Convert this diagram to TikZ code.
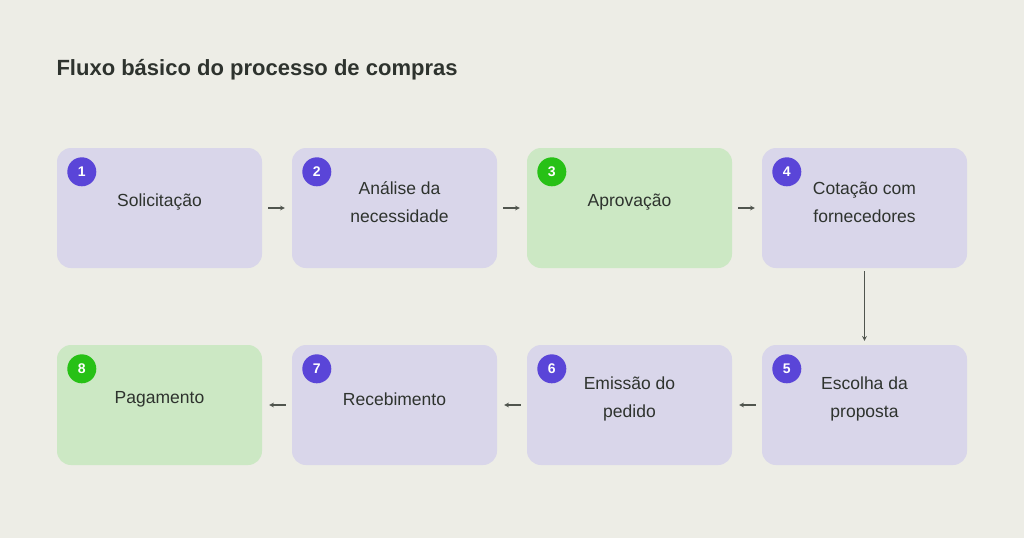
\documentclass[tikz,border=0pt]{standalone}
\usepackage{fontspec}
\setmainfont{Liberation Sans}
\usepackage{xcolor}
\usetikzlibrary{positioning}
\definecolor{bgc}{HTML}{EDEDE6}
\definecolor{lav}{HTML}{D9D6EA}
\definecolor{mint}{HTML}{CCE8C4}
\definecolor{violet}{HTML}{5A45D8}
\definecolor{leaf}{HTML}{27C116}
\definecolor{ink}{HTML}{2E332E}
\definecolor{arr}{HTML}{50554E}

\begin{document}
\begin{tikzpicture}[x=1pt, y=-1pt,
    stepbox/.style={rectangle, rounded corners=14pt, fill=lav, minimum width=205pt, minimum height=120pt, inner sep=0pt}, % step card
    donebox/.style={stepbox, fill=mint},
    steptext/.style={text=ink, font=\fontsize{17.5}{28}\selectfont, align=center},
    badge/.style={circle, fill=violet, text=white, minimum size=29pt, inner sep=0pt, font=\bfseries\fontsize{14}{14}\selectfont},
    donebadge/.style={badge, fill=leaf},
    flow/.style={->, >=stealth, draw=arr, line width=1.1pt, shorten >=7pt, shorten <=6pt}
]
\fill[bgc] (0,0) rectangle (1024,538);
\useasboundingbox (0,0) rectangle (1024,538);

\node[anchor=west, text=ink, font=\bfseries\fontsize{22}{24}\selectfont] (title) at (53,70) {Fluxo básico do processo de compras};

% first row
\node[stepbox] (b1) at (159.5,208) {};
\node[stepbox] (b2) at (394.5,208) {};
\node[donebox] (b3) at (629.5,208) {};
\node[stepbox] (b4) at (864.5,208) {};
% second row
\node[stepbox] (b5) at (864.5,405) {};
\node[stepbox] (b6) at (629.5,405) {};
\node[stepbox] (b7) at (394.5,405) {};
\node[donebox] (b8) at (159.5,405) {};

\node[steptext] (t1) at (159.5,202) {Solicitação};
\node[steptext] (t2) at (399.5,202) {Análise da\\necessidade};
\node[steptext] (t3) at (629.5,202) {Aprovação};
\node[steptext] (t4) at (864.5,202) {Cotação com\\fornecedores};
\node[steptext] (t5) at (864.5,399) {Escolha da\\proposta};
\node[steptext] (t6) at (629.5,399) {Emissão do\\pedido};
\node[steptext] (t7) at (394.5,399) {Recebimento};
\node[steptext] (t8) at (159.5,399) {Pagamento};

\foreach \i/\s in {1/badge,2/badge,3/donebadge,4/badge,5/badge,6/badge,7/badge,8/donebadge}
  \node[\s] (c\i) at ([xshift=25pt,yshift=-24pt]b\i.north west) {\i};

\draw[flow] (b1) -- (b2);
\draw[flow] (b2) -- (b3);
\draw[flow] (b3) -- (b4);
\draw[flow, shorten <=3pt, shorten >=4pt] (b4) -- (b5);
\draw[flow] (b5) -- (b6);
\draw[flow] (b6) -- (b7);
\draw[flow] (b7) -- (b8);
\end{tikzpicture}
\end{document}
